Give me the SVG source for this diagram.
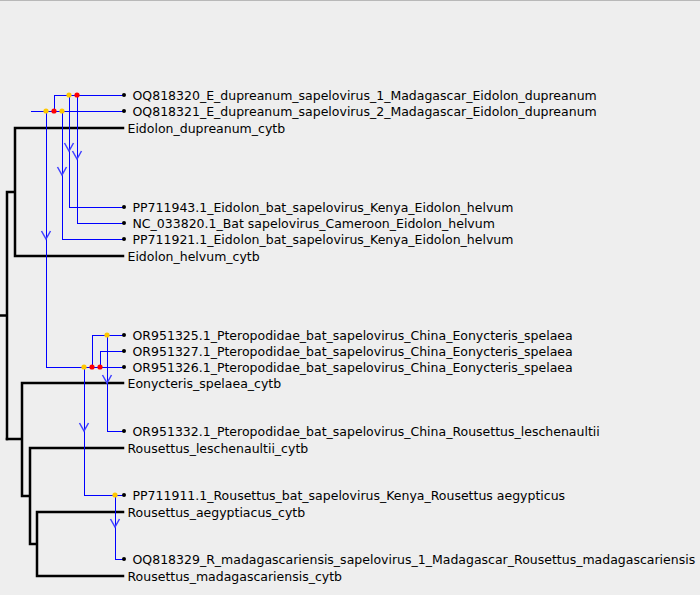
<svg xmlns="http://www.w3.org/2000/svg" width="700" height="595" viewBox="0 0 700 595">
  <style>
    .tree { fill: none; stroke: #000; stroke-width: 2.5; stroke-linecap: square; }
    .link { fill: none; stroke: #0000ff; stroke-width: 1; shape-rendering: crispEdges; }
    .chev { fill: none; stroke: #4040ff; stroke-width: 1.5; }
    .lbl { font-family: "DejaVu Sans", sans-serif; font-size: 12.5px; fill: #000; }
    .tip { fill: #000; }
    .y { fill: #ffc800; }
    .r { fill: #ff0000; }
  </style>
  <defs>
    <path id="chev" d="M -4.5 -8 L 0 0 L 4.5 -8" class="chev"/>
  </defs>
  <rect width="700" height="595" fill="#eeeeee"/>
  <line x1="0" y1="0.5" x2="700" y2="0.5" stroke="#b8b8b8" stroke-width="1"/>

  <!-- host (cytb) tree -->
  <g id="host-tree">
    <path class="tree" d="M 0 315.5 H 7 M 7 192 V 439 M 7 192 H 15 M 15 128 V 256 M 15 128 H 123 M 15 256 H 123"/>
    <path class="tree" d="M 7 439 H 22 M 22 383 V 496 M 22 383 H 123 M 22 496 H 30 M 30 448 V 544 M 30 448 H 123 M 30 544 H 37 M 37 512 V 576 M 37 512 H 123 M 37 576 H 123"/>
  </g>

  <!-- virus tree connectors -->
  <g id="connectors">
    <path class="link" d="M 54 95 H 123 M 54 95 V 111 M 31 111 H 123"/>
    <path class="link" d="M 69 95 V 207 H 123 M 77 95 V 223 H 123 M 62 111 V 239 H 123"/>
    <path class="link" d="M 46 111 V 367 H 123 M 92 367 V 335 H 123 M 100 367 V 351 H 123"/>
    <path class="link" d="M 107 335 V 431 H 123 M 84 367 V 495 H 123 M 115 495 V 559 H 123"/>
    <use href="#chev" x="69" y="151"/>
    <use href="#chev" x="77" y="159"/>
    <use href="#chev" x="62" y="175"/>
    <use href="#chev" x="46" y="239"/>
    <use href="#chev" x="107" y="383"/>
    <use href="#chev" x="84" y="431"/>
    <use href="#chev" x="115" y="527"/>
  </g>

  <!-- event markers -->
  <g id="events">
    <circle class="y" cx="69" cy="95" r="2.6"/>
    <circle class="r" cx="77" cy="95" r="2.6"/>
    <circle class="y" cx="46" cy="111" r="2.6"/>
    <circle class="r" cx="54" cy="111" r="2.6"/>
    <circle class="y" cx="62" cy="111" r="2.6"/>
    <circle class="y" cx="107" cy="335" r="2.6"/>
    <circle class="y" cx="84" cy="367" r="2.6"/>
    <circle class="r" cx="92" cy="367" r="2.6"/>
    <circle class="r" cx="100" cy="367" r="2.6"/>
    <circle class="y" cx="115" cy="495" r="2.6"/>
  </g>

  <!-- virus leaves -->
  <g id="v-OQ818320"><circle class="tip" cx="124" cy="95" r="2"/><text class="lbl" x="132.5" y="99.5">OQ818320_E_dupreanum_sapelovirus_1_Madagascar_Eidolon_dupreanum</text></g>
  <g id="v-OQ818321"><circle class="tip" cx="124" cy="111" r="2"/><text class="lbl" x="132.5" y="115.5">OQ818321_E_dupreanum_sapelovirus_2_Madagascar_Eidolon_dupreanum</text></g>
  <g id="v-PP711943"><circle class="tip" cx="124" cy="207" r="2"/><text class="lbl" x="132.5" y="211.5">PP711943.1_Eidolon_bat_sapelovirus_Kenya_Eidolon_helvum</text></g>
  <g id="v-NC_033820"><circle class="tip" cx="124" cy="223" r="2"/><text class="lbl" x="132.5" y="227.5">NC_033820.1_Bat sapelovirus_Cameroon_Eidolon_helvum</text></g>
  <g id="v-PP711921"><circle class="tip" cx="124" cy="239" r="2"/><text class="lbl" x="132.5" y="243.5">PP711921.1_Eidolon_bat_sapelovirus_Kenya_Eidolon_helvum</text></g>
  <g id="v-OR951325"><circle class="tip" cx="124" cy="335" r="2"/><text class="lbl" x="132.5" y="339.5">OR951325.1_Pteropodidae_bat_sapelovirus_China_Eonycteris_spelaea</text></g>
  <g id="v-OR951327"><circle class="tip" cx="124" cy="351" r="2"/><text class="lbl" x="132.5" y="355.5">OR951327.1_Pteropodidae_bat_sapelovirus_China_Eonycteris_spelaea</text></g>
  <g id="v-OR951326"><circle class="tip" cx="124" cy="367" r="2"/><text class="lbl" x="132.5" y="371.5">OR951326.1_Pteropodidae_bat_sapelovirus_China_Eonycteris_spelaea</text></g>
  <g id="v-OR951332"><circle class="tip" cx="124" cy="431" r="2"/><text class="lbl" x="132.5" y="435.5">OR951332.1_Pteropodidae_bat_sapelovirus_China_Rousettus_leschenaultii</text></g>
  <g id="v-PP711911"><circle class="tip" cx="124" cy="495" r="2"/><text class="lbl" x="132.5" y="499.5">PP711911.1_Rousettus_bat_sapelovirus_Kenya_Rousettus aegypticus</text></g>
  <g id="v-OQ818329"><circle class="tip" cx="124" cy="559" r="2"/><text class="lbl" x="132.5" y="563.5">OQ818329_R_madagascariensis_sapelovirus_1_Madagascar_Rousettus_madagascariensis</text></g>

  <!-- host leaves -->
  <g id="h-Eidolon_dupreanum"><text class="lbl" x="127.5" y="132.5">Eidolon_dupreanum_cytb</text></g>
  <g id="h-Eidolon_helvum"><text class="lbl" x="127.5" y="260.5">Eidolon_helvum_cytb</text></g>
  <g id="h-Eonycteris_spelaea"><text class="lbl" x="127.5" y="387.5">Eonycteris_spelaea_cytb</text></g>
  <g id="h-Rousettus_leschenaultii"><text class="lbl" x="127.5" y="452.5">Rousettus_leschenaultii_cytb</text></g>
  <g id="h-Rousettus_aegyptiacus"><text class="lbl" x="127.5" y="516.5">Rousettus_aegyptiacus_cytb</text></g>
  <g id="h-Rousettus_madagascariensis"><text class="lbl" x="127.5" y="580.5">Rousettus_madagascariensis_cytb</text></g>
</svg>
